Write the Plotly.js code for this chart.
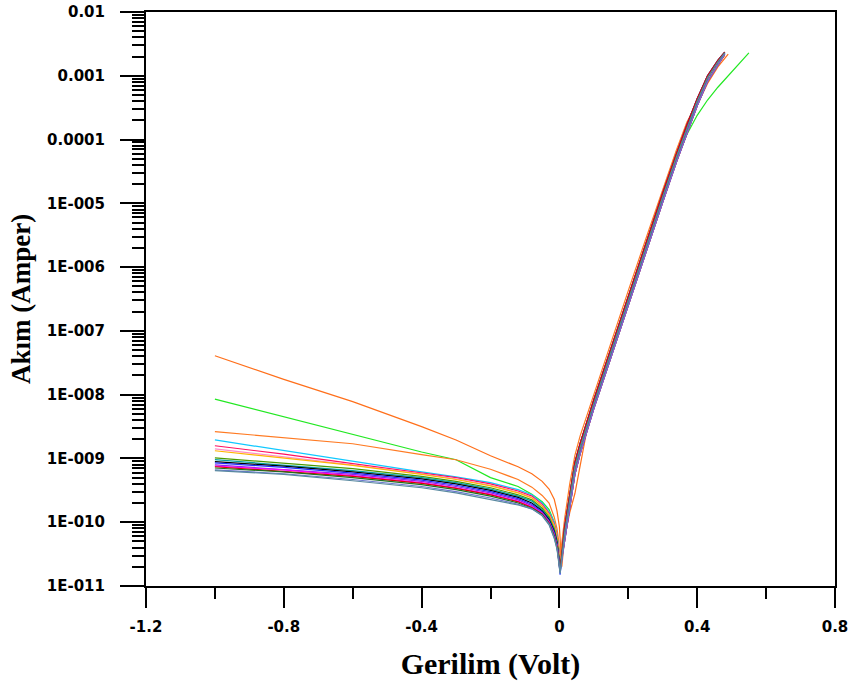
<!DOCTYPE html>
<html>
<head>
<meta charset="utf-8">
<script src="https://cdn.plot.ly/plotly-3.0.1.min.js"></script>
<style>html,body{margin:0;padding:0;background:#fff;}#chart{width:850px;height:686px;}</style>
</head>
<body>
<div id="chart"></div>
<script>
// Voltage grids (V)
const voltage = [-1, -0.8, -0.6, -0.4, -0.3, -0.2, -0.12, -0.08, -0.05, -0.03, -0.015, -0.007, -0.002, 0.002,
  0.015, 0.03, 0.045, 0.06, 0.08, 0.1, 0.15, 0.2, 0.25, 0.3, 0.34, 0.37, 0.4, 0.43, 0.46, 0.48];
const voltageOrange1 = [-1, -0.8, -0.6, -0.4, -0.3, -0.2, -0.12, -0.08, -0.05, -0.03, -0.015, -0.007, 0, 0.004, 0.007,
  0.015, 0.03, 0.045, 0.06, 0.08, 0.1, 0.15, 0.2, 0.25, 0.3, 0.34, 0.37, 0.4, 0.43, 0.46, 0.49];
const voltageGreen = [-1, -0.8, -0.6, -0.4, -0.3, -0.2, -0.12, -0.08, -0.05, -0.03, -0.015, -0.007, -0.002, 0.002,
  0.015, 0.03, 0.045, 0.06, 0.08, 0.1, 0.15, 0.2, 0.25, 0.3, 0.34, 0.37, 0.4, 0.43, 0.46, 0.48, 0.51, 0.55];

// Current (A) per curve
const curveOrange1 = [4.07e-8, 1.74e-8, 7.76e-9, 3.16e-9, 1.95e-9, 1.10e-9, 7.41e-10, 5.75e-10, 4.37e-10, 3.31e-10, 2.29e-10, 1.51e-10, 8.51e-11, 3.98e-11, 2.0e-11,
  5.62e-11, 1.41e-10, 2.82e-10, 7.94e-10, 2.82e-9, 6.31e-9, 4.37e-8, 2.88e-7, 1.86e-6, 1.17e-5, 5.01e-5, 1.38e-4, 3.47e-4, 7.59e-4, 1.38e-3, 2.19e-3];
const curveGreen = [8.51e-9, 4.47e-9, 2.34e-9, 1.26e-9, 9.55e-10, 5.01e-10, 3.63e-10, 2.75e-10, 2.09e-10, 1.58e-10, 1.0e-10, 6.31e-11, 3.55e-11, 2.0e-11,
  5.62e-11, 2.0e-10, 6.31e-10, 1.26e-9, 3.02e-9, 6.61e-9, 4.27e-8, 2.82e-7, 1.82e-6, 1.17e-5, 4.79e-5, 1.20e-4, 2.40e-4, 4.17e-4, 6.61e-4, 8.71e-4, 1.32e-3, 2.29e-3];
const curveOrange2 = [2.63e-9, 2.14e-9, 1.70e-9, 1.15e-9, 9.55e-10, 6.76e-10, 4.68e-10, 3.55e-10, 2.63e-10, 2.0e-10, 1.20e-10, 7.94e-11, 5.01e-11, 2.82e-11,
  1.12e-10, 3.98e-10, 1.12e-9, 2.24e-9, 4.79e-9, 1.0e-8, 6.61e-8, 4.27e-7, 2.69e-6, 1.70e-5, 6.92e-5, 1.86e-4, 3.80e-4, 8.32e-4, 1.51e-3, 2.09e-3];
const curveCyan = [1.95e-9, 1.32e-9, 8.91e-10, 6.17e-10, 5.13e-10, 4.17e-10, 3.24e-10, 2.69e-10, 2.0e-10, 1.45e-10, 1.0e-10, 6.31e-11, 3.80e-11, 1.91e-11,
  6.76e-11, 2.40e-10, 7.41e-10, 1.48e-9, 3.39e-9, 7.24e-9, 4.68e-8, 3.09e-7, 1.95e-6, 1.26e-5, 5.37e-5, 1.51e-4, 3.98e-4, 9.33e-4, 1.66e-3, 2.29e-3];
const curveCrimson = [1.58e-9, 1.17e-9, 8.32e-10, 6.03e-10, 5.01e-10, 3.98e-10, 3.09e-10, 2.57e-10, 1.91e-10, 1.38e-10, 9.33e-11, 6.03e-11, 3.55e-11, 2.0e-11,
  8.32e-11, 2.88e-10, 8.71e-10, 1.70e-9, 3.89e-9, 8.32e-9, 5.37e-8, 3.55e-7, 2.24e-6, 1.45e-5, 6.03e-5, 1.70e-4, 4.37e-4, 1.0e-3, 1.74e-3, 2.34e-3];
const curvePink = [1.41e-9, 1.07e-9, 7.94e-10, 5.75e-10, 4.79e-10, 3.80e-10, 2.95e-10, 2.45e-10, 1.82e-10, 1.32e-10, 8.91e-11, 5.75e-11, 3.39e-11, 2.09e-11,
  6.76e-11, 2.40e-10, 7.41e-10, 1.48e-9, 3.39e-9, 7.24e-9, 4.68e-8, 3.09e-7, 1.95e-6, 1.26e-5, 5.37e-5, 1.51e-4, 3.98e-4, 9.33e-4, 1.66e-3, 2.29e-3];
const curveGold = [1.32e-9, 1.02e-9, 7.76e-10, 5.62e-10, 4.68e-10, 3.72e-10, 2.88e-10, 2.40e-10, 1.78e-10, 1.29e-10, 8.71e-11, 5.62e-11, 3.31e-11, 2.19e-11,
  5.01e-11, 1.78e-10, 5.62e-10, 1.17e-9, 2.75e-9, 6.03e-9, 3.89e-8, 2.57e-7, 1.62e-6, 1.05e-5, 4.47e-5, 1.26e-4, 3.39e-4, 8.13e-4, 1.51e-3, 2.19e-3];
const curveOlive = [1.02e-9, 8.51e-10, 6.92e-10, 5.25e-10, 4.37e-10, 3.47e-10, 2.69e-10, 2.24e-10, 1.66e-10, 1.20e-10, 7.94e-11, 5.25e-11, 3.16e-11, 1.82e-11,
  8.32e-11, 2.88e-10, 8.71e-10, 1.70e-9, 3.89e-9, 8.32e-9, 5.37e-8, 3.55e-7, 2.24e-6, 1.45e-5, 6.03e-5, 1.70e-4, 4.37e-4, 1.0e-3, 1.74e-3, 2.34e-3];
const curveTeal = [9.55e-10, 7.94e-10, 6.46e-10, 5.01e-10, 4.17e-10, 3.31e-10, 2.57e-10, 2.14e-10, 1.58e-10, 1.15e-10, 7.59e-11, 5.01e-11, 3.02e-11, 1.74e-11,
  6.76e-11, 2.40e-10, 7.41e-10, 1.48e-9, 3.39e-9, 7.24e-9, 4.68e-8, 3.09e-7, 1.95e-6, 1.26e-5, 5.37e-5, 1.51e-4, 3.98e-4, 9.33e-4, 1.66e-3, 2.29e-3];
const curveBlack = [8.91e-10, 7.59e-10, 6.17e-10, 4.79e-10, 3.98e-10, 3.16e-10, 2.45e-10, 2.0e-10, 1.51e-10, 1.10e-10, 7.24e-11, 4.79e-11, 2.95e-11, 1.91e-11,
  5.01e-11, 1.78e-10, 5.62e-10, 1.17e-9, 2.75e-9, 6.03e-9, 3.89e-8, 2.57e-7, 1.62e-6, 1.05e-5, 4.47e-5, 1.26e-4, 3.39e-4, 8.13e-4, 1.51e-3, 2.19e-3];
const curveBlue = [8.51e-10, 7.24e-10, 5.89e-10, 4.57e-10, 3.80e-10, 3.02e-10, 2.34e-10, 1.91e-10, 1.45e-10, 1.05e-10, 6.92e-11, 4.57e-11, 2.82e-11, 1.51e-11,
  8.32e-11, 2.88e-10, 8.71e-10, 1.70e-9, 3.89e-9, 8.32e-9, 5.37e-8, 3.55e-7, 2.24e-6, 1.45e-5, 6.03e-5, 1.70e-4, 4.37e-4, 1.0e-3, 1.74e-3, 2.34e-3];
const curvePurple = [7.94e-10, 6.76e-10, 5.62e-10, 4.37e-10, 3.63e-10, 2.88e-10, 2.24e-10, 1.82e-10, 1.41e-10, 1.02e-10, 6.61e-11, 4.37e-11, 2.75e-11, 1.66e-11,
  6.76e-11, 2.40e-10, 7.41e-10, 1.48e-9, 3.39e-9, 7.24e-9, 4.68e-8, 3.09e-7, 1.95e-6, 1.26e-5, 5.37e-5, 1.51e-4, 3.98e-4, 9.33e-4, 1.66e-3, 2.29e-3];
const curveMagenta = [7.59e-10, 6.61e-10, 5.37e-10, 4.17e-10, 3.47e-10, 2.75e-10, 2.14e-10, 1.74e-10, 1.38e-10, 1.0e-10, 6.31e-11, 4.27e-11, 2.69e-11, 1.82e-11,
  5.01e-11, 1.78e-10, 5.62e-10, 1.17e-9, 2.75e-9, 6.03e-9, 3.89e-8, 2.57e-7, 1.62e-6, 1.05e-5, 4.47e-5, 1.26e-4, 3.39e-4, 8.13e-4, 1.51e-3, 2.19e-3];
const curveRed = [7.41e-10, 6.31e-10, 5.25e-10, 4.07e-10, 3.39e-10, 2.69e-10, 2.09e-10, 1.70e-10, 1.35e-10, 9.77e-11, 6.17e-11, 4.17e-11, 2.63e-11, 1.74e-11,
  8.32e-11, 2.88e-10, 8.71e-10, 1.70e-9, 3.89e-9, 8.32e-9, 5.37e-8, 3.55e-7, 2.24e-6, 1.45e-5, 6.03e-5, 1.70e-4, 4.37e-4, 1.0e-3, 1.74e-3, 2.34e-3];
const curveDarkGreen = [7.08e-10, 6.17e-10, 5.01e-10, 3.89e-10, 3.24e-10, 2.57e-10, 2.0e-10, 1.66e-10, 1.32e-10, 9.55e-11, 6.03e-11, 4.07e-11, 2.63e-11, 1.66e-11,
  6.76e-11, 2.40e-10, 7.41e-10, 1.48e-9, 3.39e-9, 7.24e-9, 4.68e-8, 3.09e-7, 1.95e-6, 1.26e-5, 5.37e-5, 1.51e-4, 3.98e-4, 9.33e-4, 1.66e-3, 2.29e-3];
const curveGrayBlue = [6.61e-10, 5.75e-10, 4.68e-10, 3.63e-10, 3.02e-10, 2.40e-10, 1.91e-10, 1.62e-10, 1.29e-10, 9.33e-11, 5.75e-11, 3.89e-11, 2.51e-11, 1.58e-11,
  5.01e-11, 1.78e-10, 5.62e-10, 1.17e-9, 2.75e-9, 6.03e-9, 3.89e-8, 2.57e-7, 1.62e-6, 1.05e-5, 4.47e-5, 1.26e-4, 3.39e-4, 8.13e-4, 1.51e-3, 2.19e-3];
const curveSlate = [6.46e-10, 5.62e-10, 4.47e-10, 3.47e-10, 2.88e-10, 2.29e-10, 1.86e-10, 1.62e-10, 1.26e-10, 9.12e-11, 5.62e-11, 3.80e-11, 2.51e-11, 1.58e-11,
  6.76e-11, 2.40e-10, 7.41e-10, 1.48e-9, 3.39e-9, 7.24e-9, 4.68e-8, 3.09e-7, 1.95e-6, 1.26e-5, 5.37e-5, 1.51e-4, 3.98e-4, 9.33e-4, 1.66e-3, 2.29e-3];

// Tick labels
const xTickVals = [-1.2, -0.8, -0.4, 0, 0.4, 0.8];
const xTickText = ['-1.2', '-0.8', '-0.4', '0', '0.4', '0.8'];
const xMinorVals = [-1.0, -0.6, -0.2, 0.2, 0.6];
const yTickVals = [1e-11, 1e-10, 1e-9, 1e-8, 1e-7, 1e-6, 1e-5, 1e-4, 1e-3, 1e-2];
const yTickText = ['1E-011', '1E-010', '1E-009', '1E-008', '1E-007', '1E-006', '1E-005', '0.0001', '0.001', '0.01'];

const series = [
  {x: voltageOrange1, y: curveOrange1, color: '#ff6f1a'},
  {x: voltageGreen, y: curveGreen, color: '#22e822'},
  {x: voltage, y: curveOrange2, color: '#ff7a22'},
  {x: voltage, y: curveCyan, color: '#10c8ff'},
  {x: voltage, y: curveCrimson, color: '#ff1060'},
  {x: voltage, y: curvePink, color: '#ff8cc8'},
  {x: voltage, y: curveGold, color: '#ffb400'},
  {x: voltage, y: curveOlive, color: '#4c9a00'},
  {x: voltage, y: curveTeal, color: '#00a0a0'},
  {x: voltage, y: curveBlack, color: '#000000'},
  {x: voltage, y: curveBlue, color: '#2030ff'},
  {x: voltage, y: curvePurple, color: '#8a2be2'},
  {x: voltage, y: curveMagenta, color: '#ff00ff'},
  {x: voltage, y: curveRed, color: '#e00000'},
  {x: voltage, y: curveDarkGreen, color: '#207020'},
  {x: voltage, y: curveGrayBlue, color: '#6a78d0'},
  {x: voltage, y: curveSlate, color: '#5a8aa0'}
];

const traces = series.map(s => ({
  type: 'scatter', mode: 'lines', x: s.x, y: s.y,
  line: {color: s.color, width: 1.2}, hoverinfo: 'skip'
}));

const tickFont = {family: 'DejaVu Sans', size: 15, color: '#000', weight: 'bold'};

const layout = {
  width: 850, height: 686,
  margin: {l: 146, r: 15, t: 12, b: 100},
  paper_bgcolor: '#fff', plot_bgcolor: '#fff',
  showlegend: false,
  xaxis: {
    range: [-1.2, 0.8], tickmode: 'array', tickvals: xTickVals, ticktext: xTickText,
    ticks: 'outside', ticklen: 20, tickwidth: 2, tickcolor: '#000',
    showline: true, linewidth: 2, linecolor: '#000', mirror: true,
    showgrid: false, zeroline: false, tickfont: tickFont, ticklabelstandoff: 6,
    minor: {tickmode: 'array', tickvals: xMinorVals, ticks: 'outside', ticklen: 11, tickwidth: 2, tickcolor: '#000', showgrid: false},
    title: {text: 'Gerilim (Volt)', font: {family: 'Liberation Serif', size: 30, color: '#000', weight: 'bold'}, standoff: 18}
  },
  yaxis: {
    type: 'log', range: [-11, -2], tickmode: 'array', tickvals: yTickVals, ticktext: yTickText,
    ticks: 'outside', ticklen: 24, tickwidth: 2, tickcolor: '#000',
    showline: true, linewidth: 2, linecolor: '#000', mirror: true,
    showgrid: false, zeroline: false, tickfont: tickFont, ticklabelstandoff: 12,
    minor: {dtick: 'D1', ticks: 'outside', ticklen: 12, tickwidth: 2, tickcolor: '#000', showgrid: false},
    title: {text: 'Akım (Amper)', font: {family: 'Liberation Serif', size: 27, color: '#000', weight: 'bold'}, standoff: 8}
  }
};

Plotly.newPlot('chart', traces, layout, {displayModeBar: false, staticPlot: true});
</script>
</body>
</html>
